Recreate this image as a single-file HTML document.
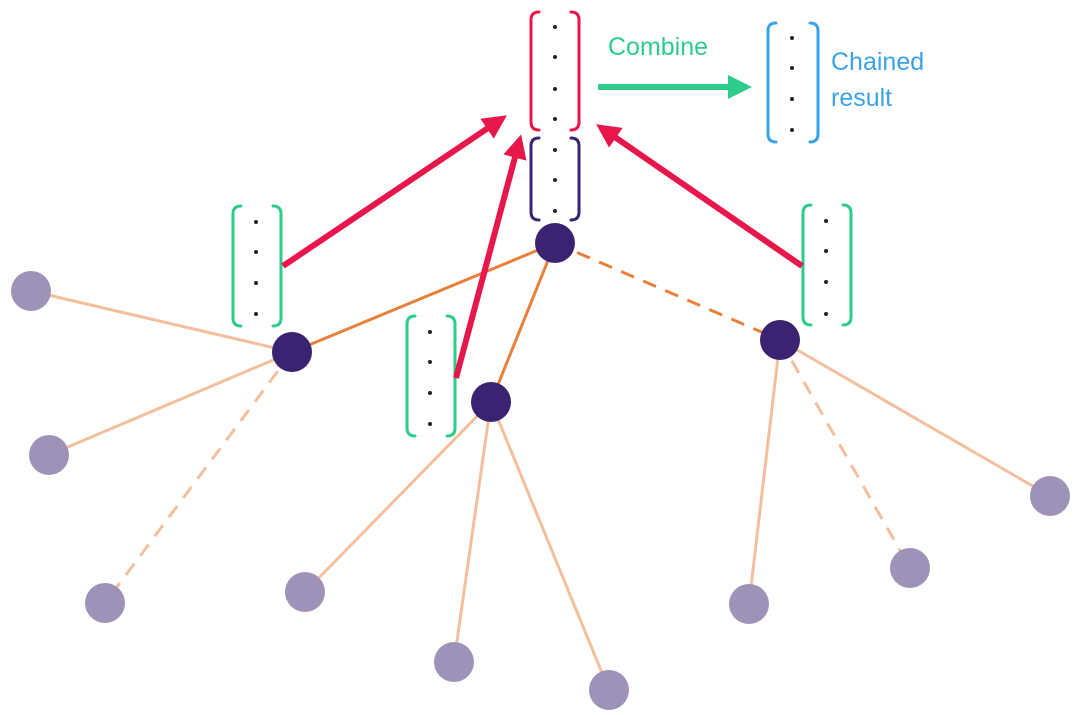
<!DOCTYPE html>
<html><head><meta charset="utf-8"><style>
html,body{margin:0;padding:0;background:#fff;}
svg{display:block;}
text{font-family:"Liberation Sans",sans-serif;}
</style></head><body>
<svg width="1080" height="715" viewBox="0 0 1080 715" xmlns="http://www.w3.org/2000/svg">
<defs>
<marker id="ra" markerWidth="4" markerHeight="4" refX="2" refY="2" orient="auto" markerUnits="strokeWidth"><path d="M0,0 L4,2 L0,4 z" fill="#e8174b"/></marker>
<marker id="ga" markerWidth="4" markerHeight="4" refX="2" refY="2" orient="auto" markerUnits="strokeWidth"><path d="M0,0 L4,2 L0,4 z" fill="#2ecc8a"/></marker>
</defs>
<!-- light edges -->
<g stroke="#f4bf9c" stroke-width="3" fill="none">
<line x1="292" y1="352" x2="31" y2="291"/>
<line x1="292" y1="352" x2="49" y2="455"/>
<line x1="292" y1="352" x2="105" y2="603" stroke-dasharray="14,10"/>
<line x1="491" y1="402" x2="305" y2="592"/>
<line x1="491" y1="402" x2="454" y2="662"/>
<line x1="491" y1="402" x2="609" y2="690"/>
<line x1="780" y1="340" x2="749" y2="604"/>
<line x1="780" y1="340" x2="910" y2="568" stroke-dasharray="14,10"/>
<line x1="780" y1="340" x2="1050" y2="496"/>
</g>
<g stroke="#e8803a" stroke-width="3" fill="none">
<line x1="292" y1="352" x2="555" y2="243"/>
<line x1="491" y1="402" x2="555" y2="243"/>
<line x1="555" y1="243" x2="780" y2="340" stroke-dasharray="14,10"/>
</g>
<!-- leaves -->
<g fill="#9f92b8">
<circle cx="31" cy="291" r="20"/><circle cx="49" cy="455" r="20"/><circle cx="105" cy="603" r="20"/>
<circle cx="305" cy="592" r="20"/><circle cx="454" cy="662" r="20"/><circle cx="609" cy="690" r="20"/>
<circle cx="749" cy="604" r="20"/><circle cx="910" cy="568" r="20"/><circle cx="1050" cy="496" r="20"/>
</g>
<!-- brackets -->
<g fill="none" stroke-width="3" stroke-linecap="round">
<path stroke="#e8174b" d="M539,12 q-8,0 -8,8 v102 q0,8 8,8 M571,12 q8,0 8,8 v102 q0,8 -8,8"/>
<path stroke="#3a2370" d="M539,138 q-8,0 -8,8 v66 q0,8 8,8 M571,138 q8,0 8,8 v66 q0,8 -8,8"/>
<path stroke="#3aa3e8" d="M776,23 q-8,0 -8,8 v103 q0,8 8,8 M810,23 q8,0 8,8 v103 q0,8 -8,8"/>
<path stroke="#2ecc8a" d="M241,206 q-8,0 -8,8 v104 q0,8 8,8 M273,206 q8,0 8,8 v104 q0,8 -8,8"/>
<path stroke="#2ecc8a" d="M415,316 q-8,0 -8,8 v104 q0,8 8,8 M447,316 q8,0 8,8 v104 q0,8 -8,8"/>
<path stroke="#2ecc8a" d="M811,205 q-8,0 -8,8 v104 q0,8 8,8 M843,205 q8,0 8,8 v104 q0,8 -8,8"/>
</g>
<g fill="#222">
<circle cx="555" cy="27" r="2"/><circle cx="555" cy="57" r="2"/><circle cx="555" cy="89" r="2"/><circle cx="555" cy="119" r="2"/>
<circle cx="555" cy="150" r="2"/><circle cx="555" cy="180" r="2"/><circle cx="555" cy="211" r="2"/>
<circle cx="792" cy="38" r="2"/><circle cx="792" cy="68" r="2"/><circle cx="792" cy="99" r="2"/><circle cx="792" cy="130" r="2"/>
<circle cx="256" cy="222" r="2"/><circle cx="256" cy="252" r="2"/><circle cx="256" cy="283" r="2"/><circle cx="256" cy="314" r="2"/>
<circle cx="430" cy="332" r="2"/><circle cx="430" cy="362" r="2"/><circle cx="430" cy="393" r="2"/><circle cx="430" cy="424" r="2"/>
<circle cx="826" cy="221" r="2"/><circle cx="826" cy="251" r="2"/><circle cx="826" cy="282" r="2"/><circle cx="826" cy="314" r="2"/>
</g>
<!-- red arrows -->
<g stroke="#e8174b" stroke-width="6" fill="none">
<line x1="283" y1="266" x2="497" y2="122" marker-end="url(#ra)"/>
<line x1="456" y1="378" x2="518" y2="146" marker-end="url(#ra)"/>
<line x1="802" y1="266" x2="606" y2="131" marker-end="url(#ra)"/>
</g>
<line x1="598" y1="87" x2="740" y2="87" stroke="#2ecc8a" stroke-width="6" marker-end="url(#ga)"/>
<!-- internal nodes -->
<g fill="#3a2370">
<circle cx="555" cy="243" r="20"/><circle cx="292" cy="352" r="20"/><circle cx="491" cy="402" r="20"/><circle cx="780" cy="340" r="20"/>
</g>
<text x="608" y="55" font-size="25" fill="#2ecc8a">Combine</text>
<text x="831" y="70" font-size="25" fill="#3aa3e8">Chained</text>
<text x="831" y="106" font-size="25" fill="#3aa3e8">result</text>
</svg>
</body></html>
